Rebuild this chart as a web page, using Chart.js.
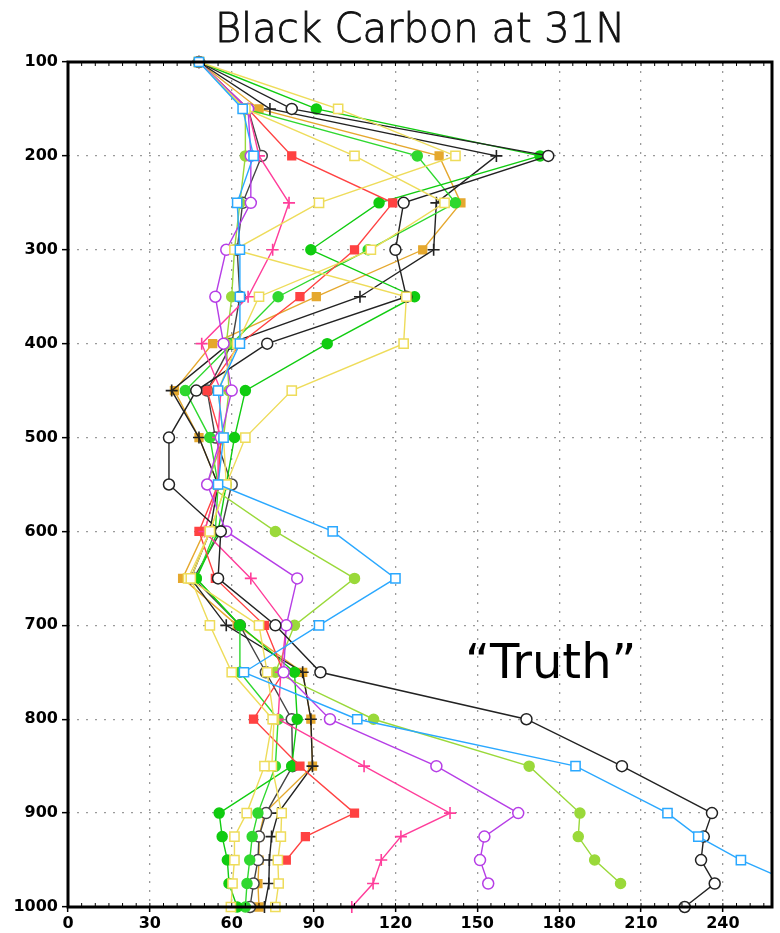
<!DOCTYPE html>
<html>
<head>
<meta charset="utf-8">
<script src="https://cdn.jsdelivr.net/npm/chart.js@4"></script>
<style>
  html, body { margin: 0; padding: 0; background: #fff; }
  #wrap { width: 780px; height: 933px; }
</style>
</head>
<body>
<div id="wrap"><canvas id="bcChart" width="780" height="933"></canvas></div>
<script>
// pressure levels (hPa), top to bottom
const levels = [100, 150, 200, 250, 300, 350, 400, 450, 500, 550, 600, 650, 700, 750, 800, 850, 900, 925, 950, 975, 1000];

// black carbon profiles, one value per level (null = no point)
const truth   = [48, 82, 176, 123, 120, 124, 73, 47, 37, 37, 56, 55, 76, 92.5, 168, 203, 236, 233, 232, 237, 226];
const black2  = [48, 66, 71, 64, 62, 63, 60, 51, 54, 60, 56, 46, 63, 72.5, 82, 82.3, 72.6, 70, 69.6, 68, 66.7];
const blackX  = [48, 74, 157, 135, 134, 107, 59, 38, 48, 55, 52, 45, 58, 86, 89, 89.6, 77, 74.6, 73.8, 73.6, 72];
const green1  = [48, 91, 173, 114, 89, 127, 95, 65, 61, 58, 55, 47, 63, 83, 84, 82, 55.4, 56.5, 58.4, 59, 62];
const green2  = [48, 65, 128, 142, 110, 77, 60, 43, 52, 55, 54, 47, 63, 63, 77, 76, 69.6, 67.5, 66.6, 65.6, 65];
const lime    = [48, 65, 65, 63, 61, 60, 58, 59, 57, 51, 76, 105, 83, 76, 112, 169, 187.6, 187, 193, 202.5, null];
const yellow1 = [48, 99, 142, 92, 61, 124, 123, 82, 65, 58, 52, 45, 52, 60, 75, 72, 65.5, 61, 61, 60.3, 59.7];
const yellow2 = [48, 65, 105, 138, 111, 70, 62, 55, 57, 58, 52, 44, 70, 73, 75.5, 74.7, 78.3, 78, 76.9, 77.2, 76];
const orange  = [48, 70, 136, 144, 130, 91, 53, 39, 48, 55, 50, 42, 62, 86, 89, 89.6, 72, 70, 70, 69.6, 70];
const red     = [48, 66, 82, 119, 105, 85, 63, 51, 56, 55, 48, 54, 72, 79, 68, 85, 105, 87, 80, null, null];
const magenta = [48, 66, 70, 81, 75, 66, 49, 56, 55, 55, 50, 67, 80, 78, 77, 108.5, 140, 122, 114.8, 111.8, 104];
const purple  = [48, 66, 67, 67, 58, 54, 57, 60, 56, 51, 58, 84, 80, 79, 96, 135, 165, 152.6, 151, 154, null];
const blue    = [48, 64, 68, 62, 63, 63, 63, 55, 57, 55, 97, 120, 92, 64.5, 106, 186, 219.7, 231, 246.6, 266, null];

const xTicks = [0, 30, 60, 90, 120, 150, 180, 210, 240];
const yTicks = [100, 200, 300, 400, 500, 600, 700, 800, 900, 1000];

function profile(values) {
  return values
    .map((v, i) => (v === null ? null : { x: v, y: levels[i] }))
    .filter(p => p !== null);
}

function series(values, color, style, filled, radius) {
  return {
    data: profile(values),
    borderColor: color,
    borderWidth: 1.4,
    pointStyle: style,
    pointRadius: radius,
    pointBorderColor: color,
    pointBackgroundColor: filled ? color : '#ffffff',
    pointBorderWidth: style === 'cross' ? 1.6 : 1.5,
    tension: 0,
    clip: { left: 8, top: 8, right: 0, bottom: 8 }
  };
}

// first dataset is drawn on top
const datasets = [
  series(blue,    '#2aa8ff', 'rect',   false, 6.5),
  series(yellow1, '#eedc5a', 'rect',   false, 6.5),
  series(yellow2, '#eedc5a', 'rect',   false, 6.5),
  series(truth,   '#222222', 'circle', false, 5.5),
  series(purple,  '#b63ee6', 'circle', false, 5.5),
  series(magenta, '#ff3d9a', 'cross',  false, 6),
  series(red,     '#ff4242', 'rect',   true,  5.5),
  series(lime,    '#9ad93a', 'circle', true,  5),
  series(green1,  '#10cc10', 'circle', true,  5),
  series(green2,  '#2fd82f', 'circle', true,  5),
  series(blackX,  '#222222', 'cross',  false, 6),
  series(black2,  '#444444', 'circle', false, 5.5),
  series(orange,  '#e5a82e', 'rect',   true,  5.5)
];

// frame, title and the "Truth" note
const decorations = {
  id: 'decorations',
  afterDatasetsDraw(chart) {
    const { ctx, chartArea: a, scales } = chart;
    ctx.save();
    ctx.strokeStyle = '#000';
    ctx.lineWidth = 3;
    ctx.strokeRect(a.left, a.top, a.right - a.left, a.bottom - a.top);

    // small inward ticks along top and bottom edges
    ctx.lineWidth = 1;
    ctx.beginPath();
    for (let v = 5; v < 258; v += 5) {
      const px = scales.x.getPixelForValue(v);
      ctx.moveTo(px, a.top); ctx.lineTo(px, a.top + 4);
      ctx.moveTo(px, a.bottom); ctx.lineTo(px, a.bottom - 4);
    }
    ctx.stroke();

    ctx.fillStyle = '#111';
    ctx.strokeStyle = '#111';
    ctx.lineWidth = 0.8;
    ctx.textAlign = 'center';
    ctx.textBaseline = 'alphabetic';
    ctx.font = '200 40px "DejaVu Sans"';
    const mid = (a.left + a.right) / 2;
    ctx.fillText('Black Carbon at 31N', mid, 42);
    ctx.strokeText('Black Carbon at 31N', mid, 42);

    ctx.fillStyle = '#000';
    ctx.textAlign = 'left';
    ctx.font = '48px "DejaVu Sans"';
    ctx.fillText('\u201CTruth\u201D', scales.x.getPixelForValue(145.5), scales.y.getPixelForValue(756));
    ctx.restore();
  }
};

const labelFont = { family: '"DejaVu Sans"', size: 16, weight: 'bold' };

new Chart(document.getElementById('bcChart').getContext('2d'), {
  type: 'line',
  data: { datasets: datasets },
  options: {
    responsive: false,
    animation: false,
    indexAxis: 'y',
    layout: { padding: { top: 62, right: 5, left: 0, bottom: 0 } },
    plugins: {
      legend: { display: false },
      tooltip: { enabled: false }
    },
    scales: {
      x: {
        type: 'linear',
        min: 0,
        max: 258,
        afterFit(scale) { scale.height = 26; },
        afterBuildTicks(scale) { scale.ticks = xTicks.map(v => ({ value: v })); },
        ticks: { color: '#000', font: labelFont, padding: 2, maxRotation: 0, callback: v => String(v) },
        grid: { color: '#9a9a9a', lineWidth: 1.3, tickLength: 5, tickColor: '#000', tickWidth: 1.5 },
        border: { display: false, dash: [2, 7] }
      },
      y: {
        type: 'linear',
        reverse: true,
        min: 100,
        max: 1000,
        afterFit(scale) { scale.width = 68; },
        afterBuildTicks(scale) { scale.ticks = yTicks.map(v => ({ value: v })); },
        ticks: { color: '#000', font: labelFont, padding: 4, callback: v => String(v) },
        grid: { color: '#9a9a9a', lineWidth: 1.3, tickLength: 6, tickColor: '#000', tickWidth: 1.5 },
        border: { display: false, dash: [2, 7] }
      }
    }
  },
  plugins: [decorations]
});
</script>
</body>
</html>
